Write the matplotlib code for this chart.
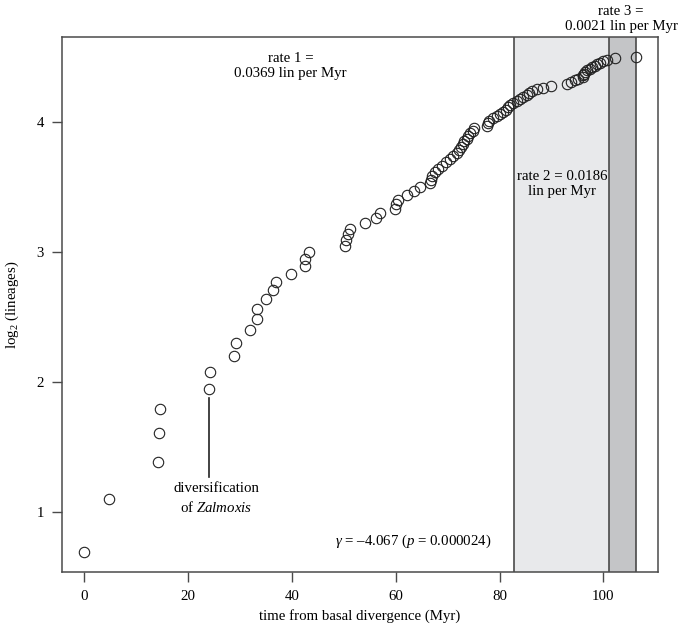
import numpy as np
import matplotlib
matplotlib.use('Agg')
import matplotlib.pyplot as plt

# node times (Myr from basal divergence), one per new lineage
node_times = [0.0, 4.8, 14.2, 14.4, 14.6, 24.1, 24.3, 28.8, 29.2, 31.9,
              33.3, 33.4, 35.1, 36.3, 37.0, 39.8, 42.5, 42.6, 43.4, 50.3,
              50.5, 50.8, 51.2, 54.1, 56.3, 56.9, 59.8, 60.1, 60.4, 62.1,
              63.5, 64.7, 66.7, 66.8, 67.0, 67.6, 68.1, 68.9, 69.7, 70.4,
              71.0, 71.8, 72.2, 72.6, 72.9, 73.2, 73.7, 74.0, 74.3, 74.9,
              75.1, 77.5, 77.7, 78.0, 78.7, 79.5, 80.0, 80.7, 81.2, 81.7,
              82.1, 82.6, 83.3, 83.9, 84.6, 85.2, 85.7, 86.3, 87.3, 88.4,
              90.0, 92.9, 93.7, 94.5, 95.1, 96.0, 96.1, 96.3, 96.5, 96.9,
              97.4, 97.9, 98.3, 98.8, 99.3, 99.9, 100.6, 102.2, 106.2]
first_lineages = 2
# rate-shift breakpoints (Myr)
shifts = [82.8, 101.0, 106.3]
rate_labels = ['rate 1 =\n0.0369 lin per Myr', 'rate 2 = 0.0186\nlin per Myr',
               'rate 3 =\n0.0021 lin per Myr']
gamma_label = r'$\gamma$ = –4.067 ($p$ = 0.000024)'

lineages = np.arange(first_lineages, first_lineages + len(node_times))
logl = np.log(lineages)

plt.rcParams['font.family'] = ['Liberation Serif', 'DejaVu Serif']
plt.rcParams['mathtext.fontset'] = 'custom'
plt.rcParams['mathtext.rm'] = 'Liberation Serif'
plt.rcParams['mathtext.it'] = 'Liberation Serif:italic'

fs = 10.7
fig = plt.figure(figsize=(6.78, 6.26), dpi=100)
ax = fig.add_axes([0.0914, 0.0863, 0.8786, 0.8547])

edge = '#4a4a4a'
ax.axvspan(shifts[0], shifts[1], color='#e8e9eb', zorder=0, lw=0)
ax.axvspan(shifts[1], shifts[2], color='#c4c5c7', zorder=0, lw=0)
for s in shifts:
    ax.axvline(s, color=edge, lw=1.2, zorder=1)

ax.plot(node_times, logl, 'o', mfc='none', mec='#222222', ms=7.5, mew=0.8, zorder=3)

span = max(node_times) - min(node_times)
ax.set_xlim(min(node_times) - 0.04 * span, max(node_times) + 0.04 * span)
yspan = logl.max() - logl.min()
ax.set_ylim(logl.min() - 0.04 * yspan, logl.max() + 0.04 * yspan)

ax.set_xticks([0, 20, 40, 60, 80, 100])
ax.set_yticks([1, 2, 3, 4])
ax.tick_params(direction='out', length=7, width=1, color=edge, labelsize=fs)
ax.tick_params(axis='x', pad=6)
ax.tick_params(axis='y', pad=6)
for sp in ax.spines.values():
    sp.set_color(edge)
    sp.set_linewidth(1.1)

ax.set_xlabel('time from basal divergence (Myr)', fontsize=fs, labelpad=4)
ax.set_ylabel(r'log$_2$ (lineages)', fontsize=fs, labelpad=11)

ax.text(39.8, 4.43, rate_labels[0], ha='center', va='center', fontsize=fs, linespacing=1.2)
ax.text(92.0, 3.52, rate_labels[1], ha='center', va='center', fontsize=fs, linespacing=1.2)
ax.text(103.4, 4.79, rate_labels[2], ha='center', va='center', fontsize=fs,
        linespacing=1.2, clip_on=False)

ax.plot([24.1, 24.1], [1.27, 1.88], color='#222222', lw=1.2)
ax.text(25.4, 1.18, 'diversification', ha='center', va='center', fontsize=fs)
ax.text(25.4, 1.04, r'of $Zalmoxis$', ha='center', va='center', fontsize=fs)

ax.text(63.4, 0.78, gamma_label, ha='center', va='center', fontsize=fs)

fig.savefig('out.png', dpi=100)
